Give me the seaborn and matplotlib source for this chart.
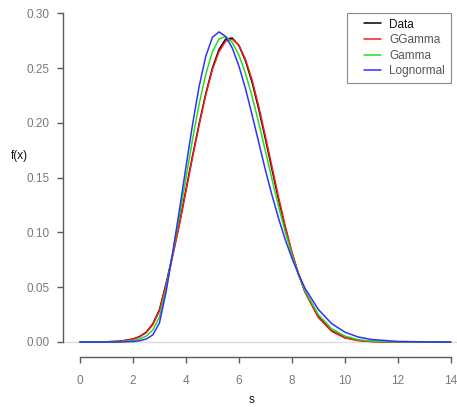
import numpy as np
import pandas as pd
import matplotlib
matplotlib.use("Agg")
import matplotlib.pyplot as plt
import seaborn as sns
from matplotlib.legend_handler import HandlerLine2D

# ---- data ----
s_values = [0, 0.5, 1, 1.5, 2, 2.25, 2.5, 2.75, 3, 3.25, 3.5, 3.75, 4, 4.25, 4.5,
            4.75, 5, 5.25, 5.5, 5.75, 6, 6.25, 6.5, 6.75, 7, 7.25, 7.5, 7.75, 8,
            8.25, 8.5, 9, 9.5, 10, 10.5, 11, 12, 13, 14]

data_y = [0, 0, 0.0002, 0.0007, 0.0027, 0.0050, 0.0089, 0.0165, 0.0294, 0.0532,
          0.0797, 0.1078, 0.1388, 0.1698, 0.1993, 0.2268, 0.2500, 0.2670, 0.2764,
          0.2774, 0.2705, 0.2566, 0.2368, 0.2125, 0.1854, 0.1574, 0.1299, 0.1043,
          0.0815, 0.0619, 0.0457, 0.0230, 0.0103, 0.0041, 0.0015, 0.0005, 0, 0, 0]

ggamma_y = [0, 0, 0.0001, 0.0006, 0.0025, 0.0047, 0.0085, 0.0158, 0.0285, 0.0520,
            0.0785, 0.1065, 0.1375, 0.1685, 0.1980, 0.2255, 0.2485, 0.2650, 0.2745,
            0.2763, 0.2710, 0.2580, 0.2390, 0.2150, 0.1880, 0.1600, 0.1320, 0.1060,
            0.0825, 0.0622, 0.0455, 0.0225, 0.0098, 0.0038, 0.0013, 0.0004, 0, 0, 0]

gamma_y = [0, 0, 0, 0.0002, 0.0013, 0.0027, 0.0054, 0.0110, 0.0227, 0.0485,
           0.0809, 0.1143, 0.1493, 0.1849, 0.2172, 0.2443, 0.2648, 0.2766, 0.2787,
           0.2733, 0.2619, 0.2451, 0.2240, 0.2000, 0.1744, 0.1486, 0.1236, 0.1004,
           0.0797, 0.0618, 0.0468, 0.0250, 0.0122, 0.0054, 0.0022, 0.0008, 0.0001, 0, 0]

lognormal_y = [0, 0, 0, 0, 0.0004, 0.0011, 0.0027, 0.0065, 0.0174, 0.0455,
               0.0815, 0.1196, 0.1596, 0.1983, 0.2334, 0.2607, 0.2780, 0.2830, 0.2788,
               0.2683, 0.2520, 0.2312, 0.2071, 0.1822, 0.1570, 0.1340, 0.1127, 0.0935,
               0.0767, 0.0621, 0.0489, 0.0297, 0.0168, 0.0090, 0.0046, 0.0023, 0.0005,
               0.0001, 0]

series_names = ["Data", "GGamma", "Gamma", "Lognormal"]
series_colors = ["#000000", "#ff1a1a", "#22dd22", "#3030ff"]
x_ticks = [0, 2, 4, 6, 8, 10, 12, 14]
y_ticks = [0.00, 0.05, 0.10, 0.15, 0.20, 0.25, 0.30]

frames = []
for name, ys in zip(series_names, [data_y, ggamma_y, gamma_y, lognormal_y]):
    frames.append(pd.DataFrame({"s": s_values, "f": ys, "model": name}))
df = pd.concat(frames, ignore_index=True)

# ---- figure ----
sns.set_theme(style="white")
plt.rcParams["font.family"] = ["Liberation Sans", "DejaVu Sans"]

W, H = 457, 407
fig = plt.figure(figsize=(W / 100, H / 100), dpi=100)
left_px, bottom_px = 63, 357
right_px, top_px = 466.6, 0
ax = fig.add_axes([left_px / W, 1 - bottom_px / H,
                   (right_px - left_px) / W, (bottom_px - top_px) / H])

ax.axhline(0, color="#dcdcdc", lw=1.0, zorder=0)

sns.lineplot(data=df, x="s", y="f", hue="model", hue_order=series_names,
             palette=dict(zip(series_names, series_colors)), estimator=None,
             sort=False, linewidth=1.1, ax=ax, legend=True)

ax.set_xlim(-0.642, 14.6)
ax.set_ylim(-0.0137, 0.3121)
ax.set_xticks(x_ticks)
ax.set_xticklabels([str(v) for v in x_ticks])
ax.set_yticks(y_ticks)
ax.set_yticklabels([f"{v:.2f}" for v in y_ticks])
ax.set_xlabel("")
ax.set_ylabel("")

for side in ["top", "right"]:
    ax.spines[side].set_visible(False)
axis_col = "#5a5a5a"
ax.spines["left"].set_bounds(0, 0.30)
ax.spines["bottom"].set_bounds(0, 14)
for side in ["left", "bottom"]:
    ax.spines[side].set_color(axis_col)
    ax.spines[side].set_linewidth(1.0)
ax.tick_params(axis="both", which="major", direction="out", length=4, width=1.0,
               color=axis_col, labelcolor="#7a7a7a", labelsize=8.5,
               bottom=True, left=True, top=False, right=False)
ax.tick_params(axis="y", pad=5.5)
ax.tick_params(axis="x", pad=9)
ax.grid(False)

fig.text(252 / W, 1 - 400 / H, "s", ha="center", va="center", fontsize=8.5, color="#111111")
fig.text(19 / W, 1 - 156 / H, "f(x)", ha="center", va="center", fontsize=8.5, color="#111111")


class RightLine(HandlerLine2D):
    def get_xdata(self, legend, xdescent, ydescent, width, height, fontsize):
        x0 = -xdescent + width * 0.40
        x1 = -xdescent + width
        return np.array([x0, x1]), np.array([(x0 + x1) / 2])


handles, labels = ax.get_legend_handles_labels()
leg = ax.legend(handles, labels, loc="upper right",
                bbox_to_anchor=(450.7 / W, 1 - 12.7 / H), bbox_transform=fig.transFigure,
                borderaxespad=0, fontsize=8.5, frameon=True, fancybox=False,
                framealpha=1, edgecolor="#8a8a8a", borderpad=0.5,
                handlelength=2.42, handletextpad=0.68, labelspacing=0.3,
                handler_map={type(handles[0]): RightLine()})
leg.get_frame().set_linewidth(0.8)
for t, name in zip(leg.get_texts(), series_names):
    t.set_color("#111111" if name == "Data" else "#555555")

fig.savefig("out.png", dpi=100)
